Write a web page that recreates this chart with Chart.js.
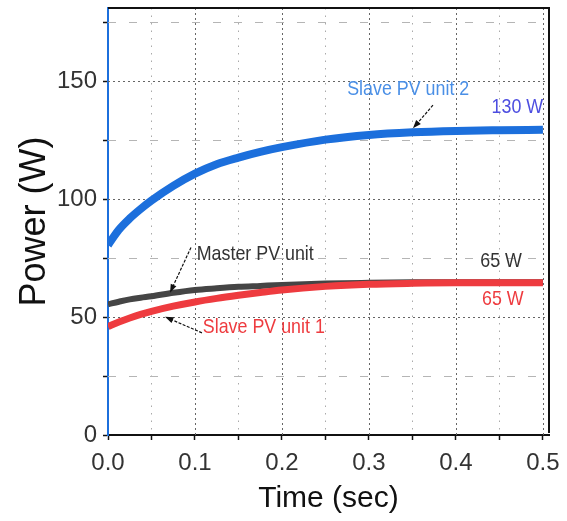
<!DOCTYPE html>
<html>
<head>
<meta charset="utf-8">
<script src="https://cdn.jsdelivr.net/npm/chart.js@4.4.1/dist/chart.umd.min.js"></script>
<style>
  html, body { margin: 0; padding: 0; background: #fff; }
  #wrap { width: 567px; height: 521px; }
</style>
</head>
<body>
<div id="wrap"><canvas id="powerChart"></canvas></div>
<script>
// time samples (sec) and power of each unit (W)
const timeSec   = [0, 0.0125, 0.025, 0.0375, 0.05, 0.075, 0.1, 0.125, 0.15, 0.175, 0.2, 0.25, 0.3, 0.35, 0.4, 0.45, 0.5];
const slave2W   = [80.5, 87, 91.8, 95.8, 99.4, 105.6, 110.8, 114.8, 117.6, 120, 122, 125.2, 127.2, 128.3, 128.9, 129.2, 129.4];
const masterW   = [55.4, 56.5, 57.5, 58.2, 58.8, 60.3, 61.5, 62.2, 62.8, 63.2, 63.6, 64.2, 64.5, 64.7, 64.8, 64.8, 64.8];
const slave1W   = [46, 47.9, 49.6, 51.1, 52.4, 54.6, 56.4, 57.9, 59.2, 60.4, 61.5, 63, 63.9, 64.3, 64.5, 64.5, 64.5];
const xTickLabels = ['0.0', '0.1', '0.2', '0.3', '0.4', '0.5'];
const yTickLabels = ['0', '50', '100', '150'];

const FONT = '"Liberation Sans", Arial, sans-serif';
const toPoints = ys => timeSec.map((t, i) => ({ x: t, y: ys[i] }));

// labels and arrows, in data coordinates
const notes = [
    { text: 'Slave PV unit 2', x: 0.275, y: 146.6, color: '#4a8fe6' },
    { text: '130 W', x: 0.441, y: 139, color: '#4d4ee0' },
    { text: 'Master PV unit', x: 0.102, y: 76.5, color: '#333333' },
    { text: 'Slave PV unit 1', x: 0.109, y: 45.9, color: '#ee3b3f' },
    { text: '65 W', x: 0.428, y: 73.5, color: '#333333' },
    { text: '65 W', x: 0.430, y: 57.4, color: '#ee3b3f' }
];
const arrows = [
    { from: [0.3736, 139.8], to: [0.3506, 130.0] },
    { from: [0.0954, 79.5], to: [0.0713, 60.3] },
    { from: [0.108, 43.3], to: [0.0655, 50.1] }
];

const gridPlugin = {
    id: 'grid',
    beforeDatasetsDraw(chart) {
        const { ctx, chartArea: a, scales: { x, y } } = chart;
        ctx.save();
        ctx.lineWidth = 1;
        // vertical lines
        for (let v = 0.05; v < 0.5; v += 0.05) {
            const major = Math.round(v * 100) % 10 === 0;
            const px = Math.round(x.getPixelForValue(v)) + 0.5;
            ctx.strokeStyle = major ? '#666' : '#aaa';
            ctx.setLineDash(major ? [2, 3] : [1.5, 6]);
            ctx.beginPath(); ctx.moveTo(px, a.top); ctx.lineTo(px, a.bottom); ctx.stroke();
        }
        // horizontal lines
        for (let v = 25; v <= 175; v += 25) {
            const major = v % 50 === 0;
            const py = Math.round(y.getPixelForValue(v)) + 0.5;
            ctx.strokeStyle = major ? '#666' : '#b5b5b5';
            ctx.setLineDash(major ? [2, 3] : [8, 13]);
            ctx.beginPath(); ctx.moveTo(a.left, py); ctx.lineTo(a.right, py); ctx.stroke();
        }
        ctx.restore();
    },
    afterDatasetsDraw(chart) {
        const { ctx, chartArea: a, scales: { x, y } } = chart;
        ctx.save();
        // top and right frame
        ctx.strokeStyle = '#111';
        ctx.lineWidth = 2;
        ctx.beginPath();
        ctx.moveTo(a.left, a.top); ctx.lineTo(a.right, a.top); ctx.lineTo(a.right, a.bottom - 2);
        ctx.stroke();

        // arrows
        arrows.forEach(ar => {
            const x1 = x.getPixelForValue(ar.from[0]), y1 = y.getPixelForValue(ar.from[1]);
            const x2 = x.getPixelForValue(ar.to[0]), y2 = y.getPixelForValue(ar.to[1]);
            const ang = Math.atan2(y2 - y1, x2 - x1);
            ctx.strokeStyle = '#111';
            ctx.lineWidth = 1.2;
            ctx.setLineDash([3, 1.5]);
            ctx.beginPath(); ctx.moveTo(x1, y1);
            ctx.lineTo(x2 - 6 * Math.cos(ang), y2 - 6 * Math.sin(ang)); ctx.stroke();
            ctx.setLineDash([]);
            ctx.fillStyle = '#111';
            ctx.beginPath();
            ctx.moveTo(x2, y2);
            ctx.lineTo(x2 - 9 * Math.cos(ang - 0.35), y2 - 9 * Math.sin(ang - 0.35));
            ctx.lineTo(x2 - 9 * Math.cos(ang + 0.35), y2 - 9 * Math.sin(ang + 0.35));
            ctx.closePath(); ctx.fill();
        });

        // text labels (slightly condensed like the original)
        ctx.font = '21px ' + FONT;
        ctx.textBaseline = 'middle';
        ctx.textAlign = 'left';
        notes.forEach(n => {
            ctx.save();
            ctx.translate(x.getPixelForValue(n.x), y.getPixelForValue(n.y));
            ctx.scale(0.85, 1);
            ctx.fillStyle = n.color;
            ctx.fillText(n.text, 0, 0);
            ctx.restore();
        });
        ctx.restore();
    }
};

const ctx = document.getElementById('powerChart').getContext('2d');
const powerChart = new Chart(ctx, {
    type: 'line',
    data: {
        datasets: [
            { label: 'Slave PV unit 1', data: toPoints(slave1W), borderColor: '#ee3b3f', borderWidth: 7, order: 0 },
            { label: 'Master PV unit', data: toPoints(masterW), borderColor: '#454545', borderWidth: 6, order: 1 },
            { label: 'Slave PV unit 2', data: toPoints(slave2W), borderColor: '#1c6fdc', borderWidth: 8, order: 2 }
        ]
    },
    options: {
        responsive: true,
        maintainAspectRatio: false,
        animation: false,
        layout: { autoPadding: false, padding: { top: 8, right: 18, left: 0, bottom: 0 } },
        elements: {
            point: { radius: 0 },
            line: { cubicInterpolationMode: 'monotone', borderCapStyle: 'butt' }
        },
        plugins: { legend: { display: false }, tooltip: { enabled: false } },
        scales: {
            x: {
                type: 'linear',
                min: 0,
                max: 0.507,
                afterBuildTicks: s => { s.ticks = s.ticks.filter(t => Math.abs(t.value * 20 - Math.round(t.value * 20)) < 1e-6 && t.value <= 0.5001); },
                afterFit: s => { s.height = 86; s.paddingLeft = 0; s.paddingRight = 0; },
                ticks: {
                    stepSize: 0.05,
                    includeBounds: false,
                    autoSkip: false,
                    maxRotation: 0,
                    padding: 9,
                    color: '#333',
                    font: { family: FONT, size: 24 },
                    callback: v => {
                        const k = Math.round(v * 10);
                        return Math.abs(v * 10 - k) < 1e-6 ? xTickLabels[k] : '';
                    }
                },
                grid: { drawOnChartArea: false, tickLength: 5, tickColor: '#111', tickWidth: 1.5 },
                border: { color: '#111', width: 2 },
                title: { display: true, text: 'Time (sec)', color: '#111', font: { family: FONT, size: 30 }, padding: { top: 0 } }
            },
            y: {
                type: 'linear',
                min: 0,
                max: 181,
                afterBuildTicks: s => { s.ticks = s.ticks.filter(t => t.value % 25 === 0); },
                afterFit: s => { s.width = 108; s.paddingTop = 0; s.paddingBottom = 0; },
                ticks: {
                    stepSize: 25,
                    includeBounds: false,
                    autoSkip: false,
                    padding: 6,
                    color: '#333',
                    font: { family: FONT, size: 24 },
                    callback: v => (v % 50 === 0 ? yTickLabels[v / 50] : '')
                },
                grid: { drawOnChartArea: false, tickLength: 5, tickColor: '#111', tickWidth: 1.5 },
                border: { color: '#1c6fdc', width: 2 },
                title: { display: true, text: 'Power (W)', color: '#111', font: { family: FONT, size: 36 }, padding: { top: 13, bottom: 0 } }
            }
        }
    },
    plugins: [gridPlugin]
});
</script>
</body>
</html>
